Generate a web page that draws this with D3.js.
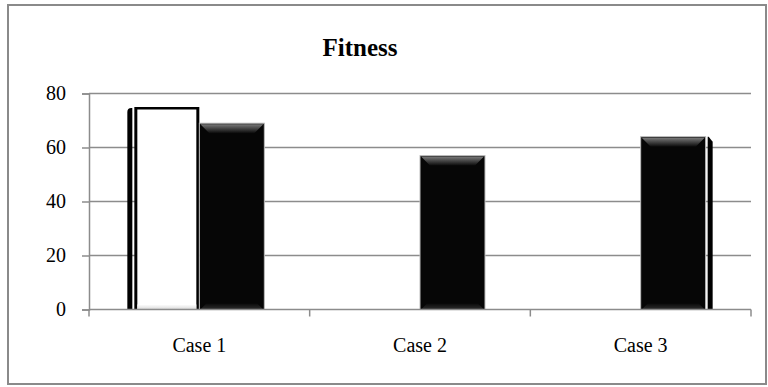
<!DOCTYPE html>
<html>
<head>
<meta charset="utf-8">
<script src="https://cdn.jsdelivr.net/npm/d3@7"></script>
<style>
  html, body { margin: 0; padding: 0; background: #fff; }
  svg { display: block; }
  text { font-family: "Liberation Serif", "Times New Roman", serif; fill: #000; }
</style>
</head>
<body>
<svg id="chart" width="768" height="387"></svg>
<script>
// Chart data
const categories = ["Case 1", "Case 2", "Case 3"];
const seriesNames = ["Series 1", "Series 2"];
const series1 = [75, 0, 0];     // white bars
const series2 = [69, 57, 64];   // black bars
const yTicks = [0, 20, 40, 60, 80];
const chartTitle = "Fitness";

const svg = d3.select("#chart");
const W = 768, H = 387;
const margin = { left: 89, right: 17, top: 93.5, bottom: 77.5 };
const plotW = W - margin.left - margin.right;
const plotH = H - margin.top - margin.bottom;

// Outer chart frame
svg.append("rect")
  .attr("x", 8).attr("y", 5).attr("width", 758).attr("height", 379)
  .attr("fill", "#fff").attr("stroke", "#8a8a8a").attr("stroke-width", 2);

const defs = svg.append("defs");
const topBevel = defs.append("linearGradient").attr("id", "topBevel")
  .attr("x1", 0).attr("y1", 0).attr("x2", 0).attr("y2", 1);
topBevel.append("stop").attr("offset", "0%").attr("stop-color", "#7a7a7a");
topBevel.append("stop").attr("offset", "100%").attr("stop-color", "#0a0a0a");
const botBevel = defs.append("linearGradient").attr("id", "botBevel")
  .attr("x1", 0).attr("y1", 0).attr("x2", 0).attr("y2", 1);
botBevel.append("stop").attr("offset", "0%").attr("stop-color", "#0a0a0a");
botBevel.append("stop").attr("offset", "100%").attr("stop-color", "#2e2e2e");
const whiteBot = defs.append("linearGradient").attr("id", "whiteBot")
  .attr("x1", 0).attr("y1", 0).attr("x2", 0).attr("y2", 1);
whiteBot.append("stop").attr("offset", "0%").attr("stop-color", "#ffffff");
whiteBot.append("stop").attr("offset", "100%").attr("stop-color", "#d8d8d8");

const g = svg.append("g").attr("transform", `translate(${margin.left},${margin.top})`);

const x0 = d3.scaleBand().domain(categories).range([0, plotW]).paddingInner(0).paddingOuter(0);
const barW = 65;
const x1 = d3.scaleBand().domain(seriesNames).range([-barW, barW]).padding(0);
const y = d3.scaleLinear().domain([0, 80]).range([plotH, 0]);

// Horizontal gridlines
g.append("g").selectAll("line").data(yTicks.filter(t => t > 0)).join("line")
  .attr("x1", 0).attr("x2", plotW)
  .attr("y1", d => y(d)).attr("y2", d => y(d))
  .attr("stroke", "#8c8c8c").attr("stroke-width", 1.5);

// Y axis
const yAxis = g.append("g").call(d3.axisLeft(y).tickValues(yTicks).tickSize(7).tickPadding(16));
yAxis.select(".domain").attr("stroke", "#8c8c8c").attr("stroke-width", 1.5);
yAxis.selectAll(".tick line").attr("stroke", "#8c8c8c").attr("stroke-width", 1.5);
yAxis.selectAll(".tick text").style("font-size", "20px")
  .style("font-family", '"Liberation Serif", serif').attr("fill", "#000");

// Bars
const rows = categories.map((c, i) => ({ cat: c, vals: [series1[i], series2[i]] }));
const bars = [];
rows.forEach(r => r.vals.forEach((v, j) => {
  if (v > 0) bars.push({ cat: r.cat, s: seriesNames[j], v, j });
}));
const bx = d => x0(d.cat) + x0.bandwidth() / 2 + x1(d.s);
const bw = x1.bandwidth();

const barG = g.append("g");

// Outer edge strips on the first and last bars of the chart
const firstBar = bars[0], lastBar = bars[bars.length - 1];
barG.append("path")
  .attr("d", () => {
    const xL = bx(firstBar) - 7, xR = bx(firstBar) - 2, yt = y(firstBar.v) + 1, yb = y(0);
    return `M${xL},${yb} L${xL},${yt + 4} Q${xL},${yt} ${xL + 4},${yt} L${xR},${yt} L${xR},${yb} Z`;
  })
  .attr("fill", "#000");
barG.append("path")
  .attr("d", () => {
    const xL = bx(lastBar) + bw + 2, xR = bx(lastBar) + bw + 7, yt = y(lastBar.v), yb = y(0);
    return `M${xL},${yb} L${xL},${yt} L${xL + 1},${yt} L${xR},${yt + 5} L${xR},${yb} Z`;
  })
  .attr("fill", "#000");

bars.forEach(d => {
  const x = bx(d), yt = y(d.v), h = y(0) - yt;
  if (d.j === 0) {
    // white bar with dark outline
    barG.append("rect").attr("x", x).attr("y", yt).attr("width", bw).attr("height", h)
      .attr("fill", "#000");
    barG.append("rect").attr("x", x + 3).attr("y", yt + 2.5).attr("width", bw - 6).attr("height", h - 2.5)
      .attr("fill", "#fff");
    barG.append("rect").attr("x", x + 3).attr("y", y(0) - 5).attr("width", bw - 6).attr("height", 5)
      .attr("fill", "url(#whiteBot)");
  } else {
    // black bevelled bar
    barG.append("rect").attr("x", x).attr("y", yt).attr("width", bw).attr("height", h)
      .attr("fill", "#060606").attr("stroke", "#bdbdbd").attr("stroke-width", 1);
    const bev = 9;
    barG.append("path")
      .attr("d", `M${x + 1},${yt + 1} L${x + bw - 1},${yt + 1} L${x + bw - 1 - bev},${yt + 1 + bev} L${x + 1 + bev},${yt + 1 + bev} Z`)
      .attr("fill", "url(#topBevel)");
    barG.append("path")
      .attr("d", `M${x + 1},${y(0)} L${x + bw - 1},${y(0)} L${x + bw - 1 - 6},${y(0) - 6} L${x + 1 + 6},${y(0) - 6} Z`)
      .attr("fill", "url(#botBevel)");
  }
});

// X axis with category boundary ticks
const xAxisG = g.append("g").attr("transform", `translate(0,${plotH})`);
xAxisG.append("line").attr("x1", 0).attr("x2", plotW).attr("y1", 0).attr("y2", 0)
  .attr("stroke", "#8c8c8c").attr("stroke-width", 1.5);
const bounds = categories.map(c => x0(c)).concat([plotW]);
xAxisG.selectAll("line.tk").data(bounds).join("line").attr("class", "tk")
  .attr("x1", d => d).attr("x2", d => d).attr("y1", 0).attr("y2", 7)
  .attr("stroke", "#8c8c8c").attr("stroke-width", 1.5);
xAxisG.selectAll("text.cat").data(categories).join("text").attr("class", "cat")
  .attr("x", d => x0(d) + x0.bandwidth() / 2).attr("y", 42)
  .attr("text-anchor", "middle").style("font-size", "20px").text(d => d);

// Title
svg.append("text").attr("x", 360).attr("y", 56).attr("text-anchor", "middle")
  .style("font-size", "25px").style("font-weight", "bold").text(chartTitle);
</script>
</body>
</html>
